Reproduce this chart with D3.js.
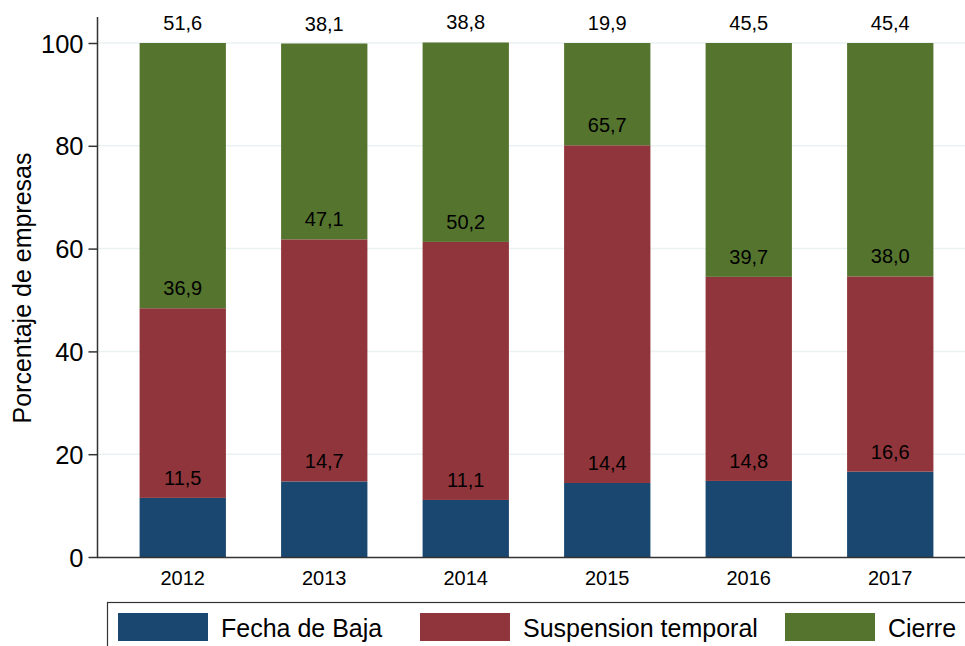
<!DOCTYPE html>
<html><head><meta charset="utf-8">
<script src="https://cdn.jsdelivr.net/npm/d3@7"></script>
<style>body{margin:0;background:#fff;} text{font-family:Arial,"Liberation Sans",sans-serif;}</style>
</head><body>
<svg id="c" width="965" height="646"></svg>
<script>
const years = ["2012","2013","2014","2015","2016","2017"];
const seriesNames = ["Fecha de Baja","Suspension temporal","Cierre"];
const fechaBaja = [11.5,14.7,11.1,14.4,14.8,16.6];
const suspension = [36.9,47.1,50.2,65.7,39.7,38.0];
const cierre = [51.6,38.1,38.8,19.9,45.5,45.4];
const yTicks = [0,20,40,60,80,100];
const colors = ["#1a476f","#90353b","#55752f"];

const svg = d3.select("#c");
const x = d3.scaleBand().domain(years).range([112,961]).paddingInner(0.39).paddingOuter(0.195);
const y = d3.scaleLinear().domain([0,100]).range([557,43]);

// grid
svg.append("g").selectAll("line").data(yTicks.filter(d=>d>0)).join("line")
  .attr("x1",98).attr("x2",965).attr("y1",d=>y(d)).attr("y2",d=>y(d))
  .attr("stroke","#eaf2f3").attr("stroke-width",1.5);

const table = years.map((yr,i)=>({year:yr, s0:fechaBaja[i], s1:suspension[i], s2:cierre[i]}));
const stack = d3.stack().keys(["s0","s1","s2"])(table);

const g = svg.append("g");
stack.forEach((layer,li)=>{
  g.append("g").selectAll("rect").data(layer).join("rect")
    .attr("x",d=>x(d.data.year)).attr("width",x.bandwidth())
    .attr("y",d=>y(d[1])).attr("height",d=>y(d[0])-y(d[1]))
    .attr("fill",colors[li]);
});
stack.forEach((layer,li)=>{
  g.append("g").selectAll("text").data(layer).join("text")
    .attr("x",d=>x(d.data.year)+x.bandwidth()/2)
    .attr("y",d=>y(d[1])-13)
    .attr("text-anchor","middle").attr("font-size",20).attr("fill","#000")
    .text(d=>d3.format(".1f")(d[1]-d[0]).replace(".",","));
});

// y axis
const ya = svg.append("g").attr("transform","translate(97.5,0)")
  .call(d3.axisLeft(y).tickValues(yTicks).tickSize(9).tickPadding(5));
ya.select(".domain").attr("d","M0,17V557").attr("stroke","#333").attr("stroke-width",1.5);
ya.selectAll(".tick line").attr("stroke","#333").attr("stroke-width",1.5);
ya.selectAll(".tick text").attr("font-size",25.5).attr("fill","#000").attr("font-family","Arial,'Liberation Sans',sans-serif").attr("dy","0.36em");

// x axis
const xa = svg.append("g").attr("transform","translate(0,557.5)")
  .call(d3.axisBottom(x).tickSize(0).tickPadding(13));
xa.select(".domain").attr("d","M97,0H965").attr("stroke","#333").attr("stroke-width",1.5);
xa.selectAll(".tick text").attr("font-size",20).attr("fill","#000").attr("font-family","Arial,'Liberation Sans',sans-serif");

// axis title
svg.append("text").attr("transform","translate(31,288) rotate(-90)")
  .attr("text-anchor","middle").attr("font-size",25).attr("fill","#000")
  .text("Porcentaje de empresas");

// legend
svg.append("rect").attr("x",107.5).attr("y",602.5).attr("width",870).attr("height",60)
  .attr("fill","#fff").attr("stroke","#333").attr("stroke-width",1.2);
const legX = [118,420,785];
const lg = svg.append("g").selectAll("g").data(seriesNames).join("g")
  .attr("transform",(d,i)=>`translate(${legX[i]},613)`);
lg.append("rect").attr("width",90).attr("height",28).attr("fill",(d,i)=>colors[i]);
lg.append("text").attr("x",103).attr("y",23.5).attr("font-size",25).attr("fill","#000").text(d=>d);
</script>
</body></html>
